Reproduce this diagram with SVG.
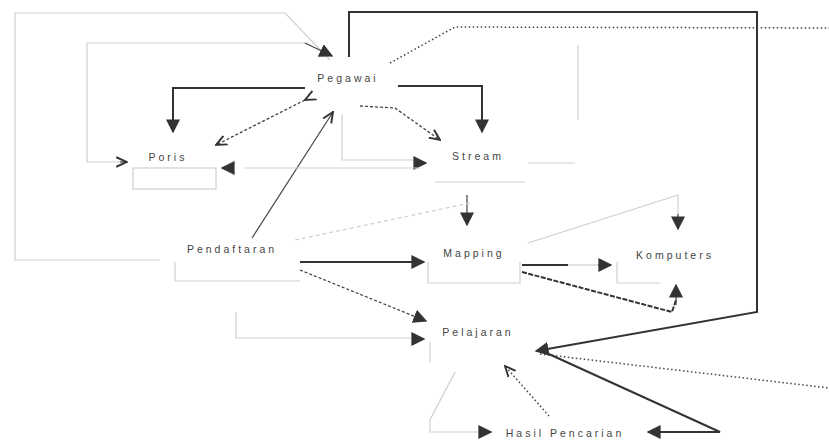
<svg xmlns="http://www.w3.org/2000/svg" width="829" height="448" viewBox="0 0 829 448">
<defs>
<marker id="fb" viewBox="0 0 10 10" refX="9" refY="5" markerWidth="14" markerHeight="14" markerUnits="userSpaceOnUse" orient="auto"><path d="M0,0 L10,5 L0,10 z" fill="#333"/></marker>
<marker id="oa" viewBox="0 0 10 10" refX="9" refY="5" markerWidth="12" markerHeight="12" markerUnits="userSpaceOnUse" orient="auto"><path d="M0,1 L9,5 L0,9" fill="none" stroke="#333" stroke-width="1.6"/></marker>
<style>
.t{font-family:"Liberation Sans",Arial,sans-serif;font-size:10.5px;fill:#444;letter-spacing:3px;text-anchor:middle}
.d{fill:none;stroke:#333;stroke-width:2}
.dt{fill:none;stroke:#444;stroke-width:1.2}
.l{fill:none;stroke:#cfcfcf;stroke-width:1.2}
.dot{fill:none;stroke:#444;stroke-width:1.5;stroke-dasharray:1.5 2.5}
.ds{fill:none;stroke:#444;stroke-width:1.3;stroke-dasharray:3 2}
.box{fill:none;stroke:#cfcfcf;stroke-width:1.2}
</style>
</defs>
<g id="connectors">
<path class="l" d="M160 260 L15 260 L15 13 L285 13 L330 60"/>
<path class="l" d="M125 162 L87 162 L87 43 L305 43"/>
<path class="dt" d="M305 43 L332 56" marker-end="url(#fb)"/>
<path class="dt" d="M120 162 L127 162" marker-end="url(#oa)"/>
<path class="d" d="M305 88 L173 88 L173 132" marker-end="url(#fb)"/>
<path class="d" d="M398 86 L482 86 L482 132" marker-end="url(#fb)"/>
<path class="d" d="M349 57 L349 12 L757 12 L757 312 L536 351" marker-end="url(#fb)"/>
<path class="dot" d="M390 63 L455 27 L829 28"/>
<path class="dot" d="M540 354 L829 388"/>
<path class="ds" d="M305 100 L216 145" marker-end="url(#oa)" marker-start="url(#oa)"/>
<path class="ds" d="M360 106 L395 108 L440 140" marker-end="url(#oa)"/>
<path class="dt" d="M252 238 L333 112" marker-end="url(#oa)"/>
<path class="l" d="M342 114 L342 160 L420 160"/>
<path class="dt" d="M418 163 L426 163" marker-end="url(#fb)"/>
<path class="l" d="M420 168 L245 168"/>
<path class="dt" d="M232 168 L222 168" marker-end="url(#fb)"/>
<path class="l" d="M528 163 L575 163"/>
<path class="l" d="M578 45 L578 120"/>
<path class="dt" d="M467 195 L467 225" marker-end="url(#fb)"/>
<path class="l" d="M295 240 L470 203" stroke-dasharray="4 3"/>
<path class="l" d="M528 243 L678 195 L678 215"/>
<path class="dt" d="M678 214 L678 229" marker-end="url(#fb)"/>
<path class="d" d="M300 262 L424 262" marker-end="url(#fb)"/>
<path class="d" d="M522 265 L568 265"/>
<path class="l" d="M568 265 L598 265"/>
<path class="dt" d="M598 265 L611 265" marker-end="url(#fb)"/>
<path class="d" d="M522 272 L672 312 L676 300" stroke-dasharray="5 1.5"/>
<path class="dt" d="M676 305 L676 285" marker-end="url(#fb)"/>
<path class="ds" d="M300 270 L426 321" marker-end="url(#fb)"/>
<path class="l" d="M236 312 L236 338 L415 338"/>
<path class="dt" d="M412 339 L424 339" marker-end="url(#fb)"/>
<path class="l" d="M455 372 L430 420 L430 432 L485 432"/>
<path class="dt" d="M480 432 L491 432" marker-end="url(#fb)"/>
<path class="dot" d="M549 416 L505 366" stroke-width="1" marker-end="url(#oa)"/>
<path class="d" d="M540 350 L720 432 L648 432" marker-end="url(#fb)"/>
</g>
<g id="pegawai"><text class="t" x="348" y="82">Pegawai</text></g>
<g id="poris"><rect class="box" x="133" y="168" width="83" height="21"/><text class="t" x="168" y="161">Poris</text></g>
<g id="stream"><path class="box" d="M435 182 L525 182"/><text class="t" x="478" y="160">Stream</text></g>
<g id="pendaftaran"><path class="box" d="M175 281 L300 281 M175 262 L175 281"/><text class="t" x="232" y="253">Pendaftaran</text></g>
<g id="mapping"><path class="box" d="M428 262 L428 283 L520 283 L520 262"/><text class="t" x="474" y="257">Mapping</text></g>
<g id="komputers"><path class="box" d="M617 283 L660 283 M617 262 L617 283"/><text class="t" x="675" y="259">Komputers</text></g>
<g id="pelajaran"><path class="box" d="M430 342 L430 362"/><text class="t" x="478" y="336">Pelajaran</text></g>
<g id="hasil"><text class="t" x="565" y="437">Hasil Pencarian</text></g>
</svg>
